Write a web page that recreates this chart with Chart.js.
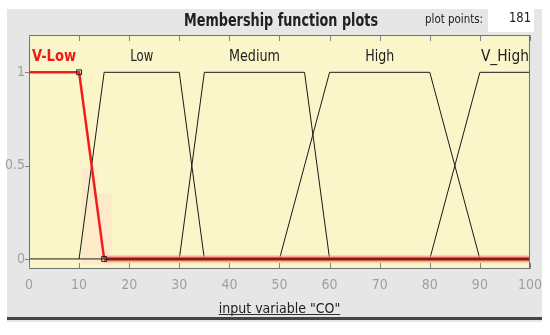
<!DOCTYPE html>
<html>
<head>
<meta charset="utf-8">
<script src="https://cdn.jsdelivr.net/npm/chart.js@4/dist/chart.umd.min.js"></script>
<style>
  html, body { margin: 0; padding: 0; background: #fff; }
  #wrap { width: 550px; height: 335px; }
</style>
</head>
<body>
<div id="wrap"><canvas id="mfChart" width="550" height="335"></canvas></div>
<script>
// ---- data ----
const xTicks = [0, 10, 20, 30, 40, 50, 60, 70, 80, 90, 100];
const yTicks = [0, 0.5, 1];

// trapezoid break points of each membership function
const vLowX = [0, 10, 15];
const vLowY = [1, 1, 0];
const vLowZeroX = [15, 100];
const vLowZeroY = [0, 0];
const lowX = [10, 15, 30, 35];
const lowY = [0, 1, 1, 0];
const mediumX = [30, 35, 55, 60];
const mediumY = [0, 1, 1, 0];
const highX = [50, 60, 80, 90];
const highY = [0, 1, 1, 0];
const vHighX = [80, 90, 100];
const vHighY = [0, 1, 1];
const baseX = [0, 100];
const baseY = [0, 0];

// selected-function handles
const handleX = [10, 15];
const handleY = [1, 0];

// faint highlight under the selected edge
const shadeX = [10.4, 13.5, 16.5];
const shadeY = [0.49, 0.35, 0.35];

// mf names and where they sit
const mfNames = ['V-Low', 'Low', 'Medium', 'High', 'V_High'];
const mfLabelX = [5, 22.5, 45, 70, 95];
const mfLabelY = 1.085;
const mfLabelW = [44, 23, 51, 29, 48];

const xTitle = 'input variable "CO"';

const FONT = '"DejaVu Sans Condensed", "Liberation Sans Narrow", "DejaVu Sans", sans-serif';

function pts(xs, ys) {
    return xs.map((x, i) => ({ x: x, y: ys[i] }));
}

function mfLine(xs, ys, color, width, order) {
    return {
        data: pts(xs, ys),
        borderColor: color,
        borderWidth: width,
        pointRadius: 0,
        fill: false,
        tension: 0,
        order: order
    };
}

// frame, title, plot box, ticks, mf names
const frame = {
    id: 'frame',
    beforeDraw(chart) {
        const c = chart.ctx;
        c.save();
        c.fillStyle = '#ffffff';
        c.fillRect(0, 0, chart.width, chart.height);
        c.fillStyle = '#e6e6e6';
        c.fillRect(7, 9, 535, 313);
        const a = chart.chartArea;
        c.fillStyle = '#faf6c9';
        c.fillRect(a.left, a.top, a.right - a.left, a.bottom - a.top);
        c.restore();
    },
    afterDraw(chart) {
        const c = chart.ctx;
        const a = chart.chartArea;
        const xs = chart.scales.x;
        const ys = chart.scales.y;
        c.save();
        // box
        c.strokeStyle = '#707070';
        c.lineWidth = 1;
        c.strokeRect(a.left + 0.5, a.top + 0.5, a.right - a.left - 1, a.bottom - a.top - 1);
        // ticks: x inside top/bottom, y just outside left
        c.strokeStyle = '#808080';
        xTicks.forEach(v => {
            const px = Math.round(xs.getPixelForValue(v)) + 0.5;
            c.beginPath();
            c.moveTo(px, a.top); c.lineTo(px, a.top + 6);
            c.moveTo(px, a.bottom); c.lineTo(px, a.bottom - 6);
            c.stroke();
        });
        yTicks.forEach(v => {
            const py = Math.round(ys.getPixelForValue(v)) + 0.5;
            c.beginPath();
            c.moveTo(a.left - 4, py); c.lineTo(a.left, py);
            c.stroke();
        });
        // title
        c.fillStyle = '#202020';
        c.font = 'bold 18px ' + FONT;
        c.textAlign = 'center';
        c.textBaseline = 'middle';
        c.fillText('Membership function plots', 281, 21, 194);
        // plot points box
        c.font = '13px ' + FONT;
        c.fillText('plot points:', 454, 20, 58);
        c.fillStyle = '#ffffff';
        c.fillRect(488, 3, 46, 29);
        c.fillStyle = '#202020';
        c.textAlign = 'right';
        c.font = '14px ' + FONT;
        c.fillText('181', 531, 18, 22);
        // mf names
        c.textAlign = 'center';
        mfNames.forEach((name, i) => {
            const px = xs.getPixelForValue(mfLabelX[i]);
            const py = ys.getPixelForValue(mfLabelY);
            if (i === 0) {
                c.fillStyle = '#f01818';
                c.font = 'bold 16px ' + FONT;
            } else {
                c.fillStyle = '#202020';
                c.font = '16px ' + FONT;
            }
            c.fillText(name, px, py, mfLabelW[i]);
        });
        // underline of the axis title
        c.font = 'condensed 14px ' + FONT;
        const tw = c.measureText(xTitle).width;
        const cx = (a.left + a.right) / 2;
        c.fillStyle = '#303030';
        c.fillRect(cx - tw / 2, 314, tw, 1);
        // bottom bar
        c.fillStyle = '#454545';
        c.fillRect(7, 317, 535, 3);
        c.restore();
    }
};

new Chart(document.getElementById('mfChart'), {
    type: 'line',
    data: {
        datasets: [
            {
                data: pts(handleX, handleY),
                showLine: false,
                pointStyle: 'rect',
                pointRadius: 3.5,
                pointBorderColor: '#202020',
                pointBorderWidth: 1,
                pointBackgroundColor: 'rgba(0,0,0,0)',
                order: 0
            },
            mfLine(vLowX, vLowY, '#f21d1d', 2.5, 1),
            mfLine(vLowZeroX, vLowZeroY, '#8f1a14', 3, 2),
            mfLine(vLowZeroX, vLowZeroY, 'rgba(250,150,130,0.75)', 7, 3),
            mfLine(lowX, lowY, '#1a1a1a', 1, 4),
            mfLine(mediumX, mediumY, '#1a1a1a', 1, 4),
            mfLine(highX, highY, '#1a1a1a', 1, 4),
            mfLine(vHighX, vHighY, '#1a1a1a', 1, 4),
            mfLine(baseX, baseY, '#1a1a1a', 1, 5),
            {
                data: pts(shadeX, shadeY),
                stepped: 'before',
                borderWidth: 0,
                borderColor: 'rgba(0,0,0,0)',
                backgroundColor: 'rgba(255,220,200,0.45)',
                fill: { value: -0.03 },
                pointRadius: 0,
                order: 9
            }
        ]
    },
    options: {
        responsive: false,
        animation: false,
        layout: { padding: { left: 0, right: 19, top: 35, bottom: 0 } },
        plugins: {
            legend: { display: false },
            tooltip: { enabled: false },
            title: { display: false }
        },
        scales: {
            x: {
                type: 'linear',
                min: 0,
                max: 100,
                grid: { display: false, drawTicks: false },
                border: { display: false },
                afterBuildTicks(scale) { scale.ticks = xTicks.map(v => ({ value: v })); },
                afterFit(scale) { scale.height = 66; },
                ticks: {
                    padding: 8,
                    maxRotation: 0,
                    color: '#a0a0a0',
                    font: { family: FONT, size: 14, style: 'condensed' }
                },
                title: {
                    display: true,
                    text: xTitle,
                    color: '#202020',
                    font: { family: FONT, size: 14, style: 'condensed' },
                    padding: { top: 2, bottom: 17 }
                }
            },
            y: {
                type: 'linear',
                min: -0.054,
                max: 1.2,
                grid: { display: false, drawTicks: false },
                border: { display: false },
                afterBuildTicks(scale) { scale.ticks = yTicks.map(v => ({ value: v })); },
                afterFit(scale) { scale.width = 29; },
                ticks: {
                    padding: 4,
                    color: '#a0a0a0',
                    font: { family: FONT, size: 14, style: 'condensed' },
                    callback: v => String(v)
                }
            }
        }
    },
    plugins: [frame]
});
</script>
</body>
</html>
